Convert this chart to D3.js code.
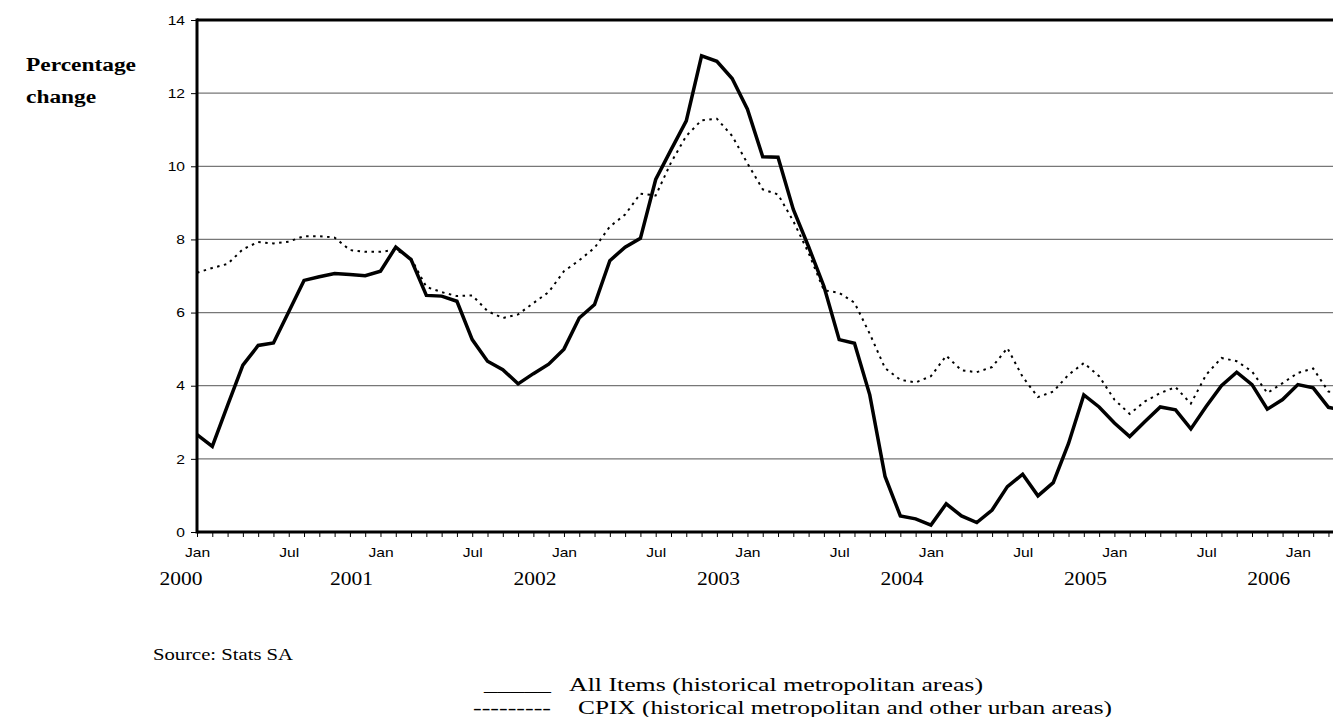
<!DOCTYPE html>
<html>
<head>
<meta charset="utf-8">
<script src="https://cdn.jsdelivr.net/npm/d3@7"></script>
<style>
html,body{margin:0;padding:0;background:#fff;overflow:hidden;}
svg{display:block;}
</style>
</head>
<body>
<svg id="chart" width="1333" height="717"></svg>
<script>
// ---- data ----
const years = [2000, 2001, 2002, 2003, 2004, 2005, 2006];
const monthNames = ["Jan","Feb","Mar","Apr","May","Jun","Jul","Aug","Sep","Oct","Nov","Dec"];
const categories = [];
years.forEach(yr => monthNames.forEach(m => categories.push(m + " " + yr)));
categories.splice(76); // Jan 2000 .. Apr 2006

const allItems = [2.66,2.34,3.46,4.56,5.10,5.17,6.02,6.88,6.98,7.07,7.04,7.01,
  7.13,7.79,7.45,6.47,6.45,6.31,5.26,4.67,4.44,4.05,4.33,4.59,
  5.00,5.85,6.22,7.42,7.79,8.03,9.64,10.45,11.24,13.02,12.87,12.40,
  11.56,10.26,10.25,8.82,7.80,6.72,5.26,5.16,3.75,1.52,0.44,0.36,
  0.19,0.77,0.44,0.26,0.60,1.24,1.58,0.99,1.35,2.42,3.75,3.42,
  2.98,2.61,3.02,3.42,3.34,2.82,3.43,4.00,4.37,4.03,3.36,3.62,
  4.03,3.94,3.41,3.33];
const cpix = [7.09,7.22,7.33,7.73,7.93,7.89,7.94,8.09,8.09,8.05,7.71,7.66,
  7.66,7.72,7.48,6.70,6.56,6.45,6.47,6.04,5.85,5.95,6.26,6.56,
  7.13,7.43,7.77,8.35,8.68,9.25,9.20,10.10,10.83,11.26,11.30,10.83,
  10.08,9.37,9.23,8.50,7.63,6.61,6.54,6.27,5.42,4.48,4.16,4.09,
  4.26,4.82,4.42,4.37,4.51,5.03,4.24,3.69,3.84,4.30,4.62,4.26,
  3.62,3.23,3.57,3.80,3.96,3.51,4.30,4.76,4.67,4.39,3.80,4.07,
  4.35,4.47,3.84,3.80];
const yTicks = [0, 2, 4, 6, 8, 10, 12, 14];
const monthTickLabels = ["Jan", "Jul"];
const yAxisTitle = ["Percentage", "change"];
const sourceText = "Source: Stats SA";
const legendItems = [
  {mark: "_____", label: "All Items (historical metropolitan areas)"},
  {mark: "---------", label: "CPIX (historical metropolitan and other urban areas)"}
];

// ---- layout ----
const svg = d3.select("#chart");
const plotLeft = 197, plotTop = 20, plotBottom = 532;
const step = 15.29;
const serif = "Liberation Serif, Times New Roman, serif";
const sans = "Liberation Sans, Arial, sans-serif";
const x = d3.scalePoint().domain(categories).range([plotLeft, plotLeft + step * (categories.length - 1)]);
const y = d3.scaleLinear().domain([0, 14]).range([plotBottom, plotTop]);

// the reference text is drawn slightly wide: stretch glyphs horizontally
function stretch(sel, k) {
  sel.each(function () {
    const w = this.getComputedTextLength();
    d3.select(this).attr("textLength", w * k).attr("lengthAdjust", "spacingAndGlyphs");
  });
}
function fitTo(sel, w) {
  sel.attr("textLength", w).attr("lengthAdjust", "spacingAndGlyphs");
}

// gridlines
svg.append("g").selectAll("line").data(yTicks.filter(t => t > 0 && t < 14)).join("line")
  .attr("x1", plotLeft).attr("x2", 1400)
  .attr("y1", d => y(d)).attr("y2", d => y(d))
  .attr("stroke", "#777").attr("stroke-width", 1.2);

// y axis
const yAxis = d3.axisLeft(y).tickValues(yTicks).tickSize(6).tickPadding(6).tickFormat(d3.format("d"));
const gy = svg.append("g").attr("transform", `translate(${plotLeft},0)`).call(yAxis);
gy.select(".domain").remove();
gy.selectAll(".tick line").attr("stroke", "#000").attr("stroke-width", 1);
gy.selectAll(".tick text").attr("font-family", sans).attr("font-size", 13).attr("fill", "#000");
stretch(gy.selectAll(".tick text"), 1.2);

// x axis (monthly ticks)
const xAxis = d3.axisBottom(x).tickSize(5).tickPadding(6)
  .tickFormat(d => monthTickLabels.includes(d.split(" ")[0]) ? d.split(" ")[0] : "");
const gx = svg.append("g").attr("transform", `translate(0,${plotBottom})`).call(xAxis);
gx.select(".domain").remove();
gx.selectAll(".tick line").attr("stroke", "#000").attr("stroke-width", 1);
gx.selectAll(".tick text").attr("font-family", sans).attr("font-size", 13).attr("fill", "#000").attr("dy", "1.05em");
stretch(gx.selectAll(".tick text").filter(function () { return this.textContent !== ""; }), 1.2);

// frame
svg.append("line").attr("x1", plotLeft).attr("x2", 1400).attr("y1", plotTop).attr("y2", plotTop).attr("stroke", "#000").attr("stroke-width", 3);
svg.append("line").attr("x1", plotLeft).attr("x2", 1400).attr("y1", plotBottom).attr("y2", plotBottom).attr("stroke", "#000").attr("stroke-width", 3);
svg.append("line").attr("x1", plotLeft).attr("x2", plotLeft).attr("y1", plotTop - 1.5).attr("y2", plotBottom + 1.5).attr("stroke", "#000").attr("stroke-width", 3);

// year labels
const yl = svg.append("g").selectAll("text").data(years).join("text")
  .attr("x", (d, i) => x("Jan " + d) - (i === 0 ? 16 : 29))
  .attr("y", 585)
  .attr("text-anchor", "middle")
  .attr("font-family", serif)
  .attr("font-size", 18)
  .text(d => d);
fitTo(yl, 43);

// lines
const line = d3.line().x((d, i) => x(categories[i])).y(d => y(d));
svg.append("path").datum(cpix).attr("d", line)
  .attr("fill", "none").attr("stroke", "#000").attr("stroke-width", 2)
  .attr("stroke-dasharray", "2.5,4.5");
svg.append("path").datum(allItems).attr("d", line)
  .attr("fill", "none").attr("stroke", "#000").attr("stroke-width", 3.5)
  .attr("stroke-linejoin", "miter");

// y axis title
const tt = svg.append("g").selectAll("text").data(yAxisTitle).join("text")
  .attr("font-family", serif)
  .attr("font-size", 18).attr("font-weight", "bold")
  .attr("x", 26).attr("y", (d, i) => 71 + i * 32).text(d => d);
stretch(tt, 1.3);

// source
const st = svg.append("text").attr("x", 153).attr("y", 660)
  .attr("font-family", serif)
  .attr("font-size", 17).text(sourceText);
fitTo(st, 140);

// legend
const lg = svg.append("g");
const legendMarkX = [484, 473], legendMarkW = [67, 78];
const legendTextX = [569, 578], legendTextW = [414, 534];
legendItems.forEach((it, i) => {
  fitTo(lg.append("text").attr("x", legendMarkX[i]).attr("y", 691 + i * 23)
    .attr("font-family", serif).attr("font-size", 19)
    .text(it.mark), legendMarkW[i]);
  fitTo(lg.append("text").attr("x", legendTextX[i]).attr("y", 691 + i * 23)
    .attr("font-family", serif).attr("font-size", 19)
    .text(it.label), legendTextW[i]);
});
</script>
</body>
</html>
